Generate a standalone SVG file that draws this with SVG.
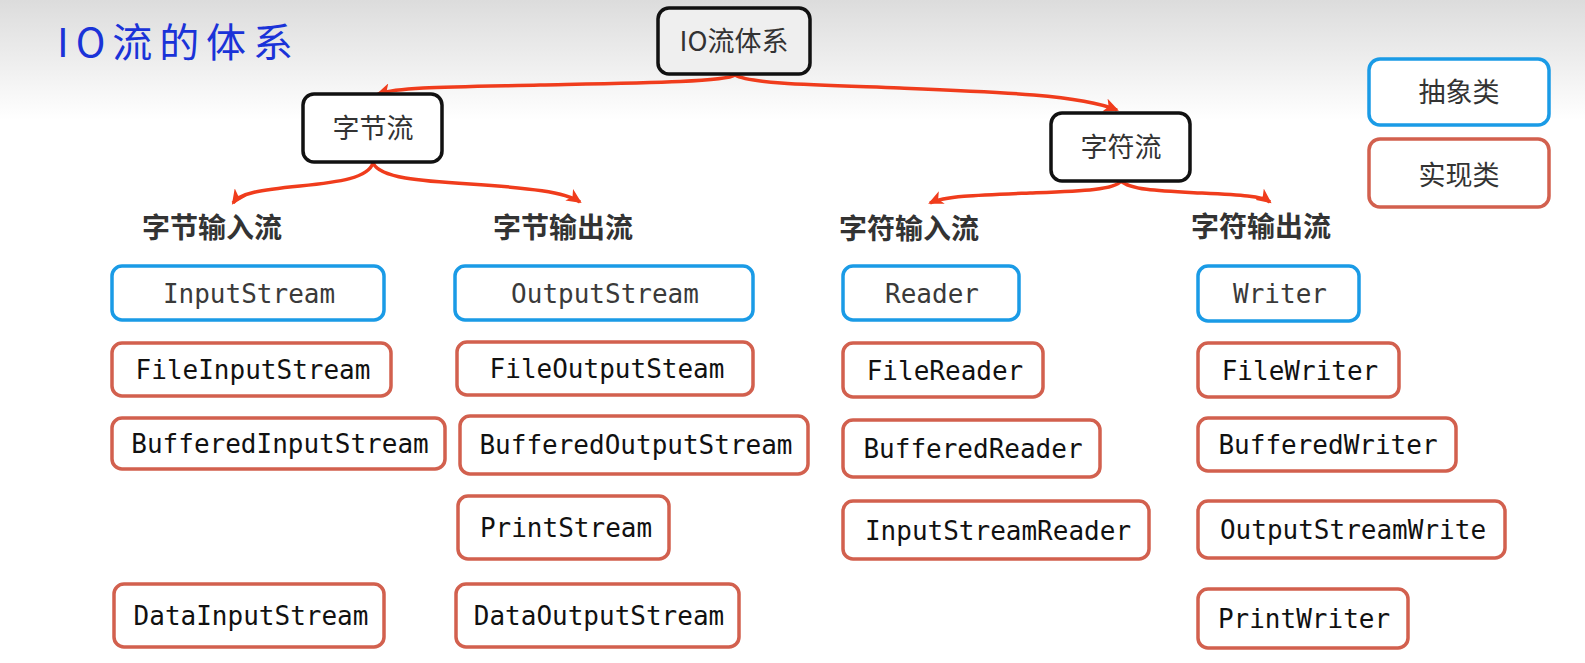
<svg xmlns="http://www.w3.org/2000/svg" width="1585" height="663" viewBox="0 0 1585 663">
<defs>
<linearGradient id="bg" x1="0" y1="0" x2="0" y2="1">
<stop offset="0" stop-color="#dcdcdc"/>
<stop offset="1" stop-color="#ffffff"/>
</linearGradient>
<marker id="ah" markerWidth="16" markerHeight="14" refX="13" refY="7" orient="auto" markerUnits="userSpaceOnUse">
<path d="M0,0 L15,7 L0,14 L4,7 Z" fill="#f03c1c"/>
</marker>
</defs>
<style>
.hub{fill:#fff;stroke:#111;stroke-width:3.5}
.abs{fill:#fff;stroke:#1a9be6;stroke-width:3.5}
.impl{fill:#fff;stroke:#d2604e;stroke-width:3.5}
.cn{font-family:"Noto Sans CJK SC","Noto Sans",sans-serif;font-size:27px;fill:#333;text-anchor:middle}
.lbl{font-family:"Noto Sans CJK SC","Noto Sans",sans-serif;font-size:28px;font-weight:bold;fill:#333;text-anchor:middle}
.ca{font-family:"DejaVu Sans Mono","Liberation Mono",monospace;font-size:26px;fill:#3a3a3a;text-anchor:middle}
.ci{font-family:"DejaVu Sans Mono","Liberation Mono",monospace;font-size:26px;fill:#111;text-anchor:middle}
.conn{fill:none;stroke:#f03c1c;stroke-width:3.5;marker-end:url(#ah)}
</style>
<rect x="0" y="0" width="1585" height="120" fill="url(#bg)"/>
<rect x="0" y="120" width="1585" height="543" fill="#fff"/>
<text x="57" y="57" textLength="236" lengthAdjust="spacing" font-family="Noto Sans CJK SC, sans-serif" font-size="40" fill="#1a33d8">IO流的体系</text>

<g id="connectors">
<path class="conn" d="M735,75 C725,82 640,83 540,85 C450,87 400,87 378,94"/>
<path class="conn" d="M735,75 C750,84 820,85 900,88 C1000,92 1080,95 1117,110"/>
<path class="conn" d="M373,163 C368,178 340,182 300,186 C260,190 240,193 233,203"/>
<path class="conn" d="M373,163 C380,178 420,181 470,184 C530,188 565,192 580,202"/>
<path class="conn" d="M1121,181 C1115,190 1080,191 1030,193 C980,195 945,196 930,203"/>
<path class="conn" d="M1121,181 C1130,190 1160,191 1200,193 C1240,195 1262,196 1270,202"/>
</g>

<g id="io"><rect class="hub" x="658" y="8" width="152" height="66" rx="11" style="fill:#efefef"/><text class="cn" x="734" y="51" font-size="26">IO流体系</text></g>
<g id="byte"><rect class="hub" x="303" y="94" width="139" height="68" rx="11"/><text class="cn" x="373" y="137.5">字节流</text></g>
<g id="char"><rect class="hub" x="1051" y="113" width="139" height="68" rx="11"/><text class="cn" x="1121" y="156.5">字符流</text></g>
<g id="legend-abs"><rect class="abs" x="1369" y="59" width="180" height="66" rx="11"/><text class="cn" x="1459" y="101.5">抽象类</text></g>
<g id="legend-impl"><rect class="impl" x="1369" y="139" width="180" height="68" rx="11"/><text class="cn" x="1459" y="184.5">实现类</text></g>

<g id="lbl-bin"><text class="lbl" x="212" y="238">字节输入流</text></g>
<g id="lbl-bout"><text class="lbl" x="563" y="238">字节输出流</text></g>
<g id="lbl-cin"><text class="lbl" x="909" y="239">字符输入流</text></g>
<g id="lbl-cout"><text class="lbl" x="1261" y="237">字符输出流</text></g>

<g id="InputStream"><rect class="abs" x="112" y="266" width="272" height="54" rx="10"/><text class="ca" x="249" y="302.5">InputStream</text></g>
<g id="FileInputStream"><rect class="impl" x="112" y="343" width="279" height="53" rx="10"/><text class="ci" x="253" y="379">FileInputStream</text></g>
<g id="BufferedInputStream"><rect class="impl" x="112" y="418" width="333" height="51" rx="10"/><text class="ci" x="280" y="453">BufferedInputStream</text></g>
<g id="DataInputStream"><rect class="impl" x="114" y="584" width="270" height="63" rx="10"/><text class="ci" x="251" y="625">DataInputStream</text></g>

<g id="OutputStream"><rect class="abs" x="455" y="266" width="298" height="54" rx="10"/><text class="ca" x="605" y="302.5">OutputStream</text></g>
<g id="FileOutputSteam"><rect class="impl" x="457" y="342" width="296" height="53" rx="10"/><text class="ci" x="607" y="378">FileOutputSteam</text></g>
<g id="BufferedOutputStream"><rect class="impl" x="460" y="416" width="348" height="58" rx="10"/><text class="ci" x="636" y="454">BufferedOutputStream</text></g>
<g id="PrintStream"><rect class="impl" x="458" y="496" width="211" height="63" rx="10"/><text class="ci" x="566" y="537">PrintStream</text></g>
<g id="DataOutputStream"><rect class="impl" x="456" y="584" width="283" height="63" rx="10"/><text class="ci" x="599" y="625">DataOutputStream</text></g>

<g id="Reader"><rect class="abs" x="843" y="266" width="176" height="54" rx="10"/><text class="ca" x="932" y="302.5">Reader</text></g>
<g id="FileReader"><rect class="impl" x="843" y="343" width="200" height="54" rx="10"/><text class="ci" x="945" y="379.5">FileReader</text></g>
<g id="BufferedReader"><rect class="impl" x="843" y="420" width="257" height="57" rx="10"/><text class="ci" x="973" y="458">BufferedReader</text></g>
<g id="InputStreamReader"><rect class="impl" x="843" y="501" width="306" height="58" rx="10"/><text class="ci" x="998" y="539.5">InputStreamReader</text></g>

<g id="Writer"><rect class="abs" x="1198" y="266" width="161" height="55" rx="10"/><text class="ca" x="1280" y="303">Writer</text></g>
<g id="FileWriter"><rect class="impl" x="1198" y="343" width="201" height="54" rx="10"/><text class="ci" x="1300" y="379.5">FileWriter</text></g>
<g id="BufferedWriter"><rect class="impl" x="1198" y="418" width="258" height="53" rx="10"/><text class="ci" x="1328" y="454">BufferedWriter</text></g>
<g id="OutputStreamWrite"><rect class="impl" x="1198" y="501" width="307" height="57" rx="10"/><text class="ci" x="1353" y="539">OutputStreamWrite</text></g>
<g id="PrintWriter"><rect class="impl" x="1198" y="589" width="210" height="59" rx="10"/><text class="ci" x="1304" y="628">PrintWriter</text></g>
</svg>
